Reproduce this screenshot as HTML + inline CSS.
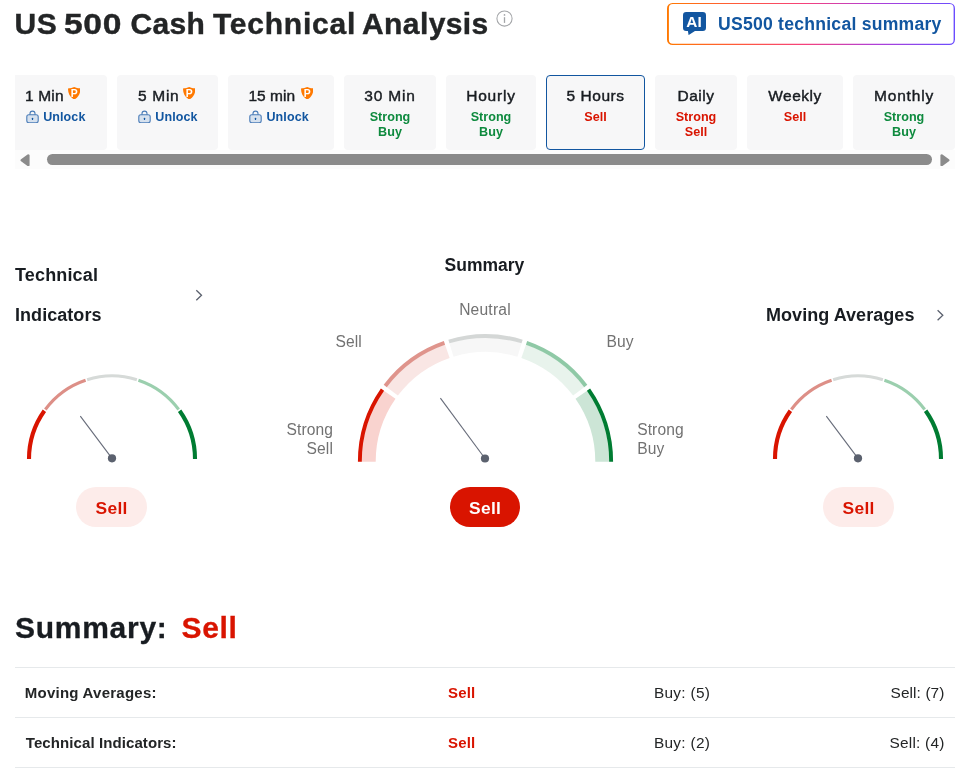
<!DOCTYPE html>
<html lang="en">
<head>
<meta charset="utf-8">
<title>US 500 Cash Technical Analysis</title>
<style>
*{box-sizing:border-box;margin:0;padding:0}
html,body{width:973px;height:770px;overflow:hidden;background:#fff}
body{font-family:"Liberation Sans",Arial,sans-serif;color:#181c21;position:relative}
.abs{position:absolute;white-space:nowrap}
h1{position:absolute;left:0;top:6.4px;width:500px;height:36px;font-size:30px;line-height:36px;font-weight:700;color:#232526;-webkit-text-stroke:.4px #232526;white-space:nowrap}
h1 span{position:absolute;top:0}
.info{position:absolute;left:496.3px;top:10.1px;width:17px;height:17px}
.aibtn{position:absolute;left:667px;top:3px;width:288px;height:42px}
.aibtn .in{position:absolute;left:0;top:0;width:288px;height:42px}
.aibtn .txt{position:absolute;left:51px;top:9.9px;font-size:17.6px;line-height:22px;font-weight:700;color:#1256a0;letter-spacing:.24px;white-space:nowrap}
.aiicon{position:absolute;left:15.7px;top:8.9px;width:23px;height:23.2px}
.tab{position:absolute;top:75px;height:75px;background:#f7f7f8;border-radius:4px;text-align:center}
.tab .t{position:absolute;left:0;right:0;top:10.9px;font-size:15.5px;line-height:20px;color:#181c21;-webkit-text-stroke:.42px #181c21;white-space:nowrap}
.tab .s{position:absolute;left:0;right:0;top:35px;font-size:12.6px;line-height:14.5px;font-weight:700}
.tab.lock .t{text-align:left}
.tab.lock .s{text-align:left;color:#1256a0;font-size:12.5px}
.tab.lock .s span{position:absolute;left:17.2px;top:0;letter-spacing:.1px}
.sh{position:absolute;top:11.6px}
.lk{position:absolute;left:0;top:-.3px}
.green{color:#0e8a3e}
.red{color:#d91400}
.tab.active{border:1px solid #1256a0}
.sbar{position:absolute;left:15px;top:150px;width:940px;height:18.7px;background:#fcfcfc}
.thumb{position:absolute;left:32px;top:4px;width:885.1px;height:10.8px;border-radius:5.4px;background:#8b8b8b}
.gt{font-size:18px;line-height:40px;font-weight:700;color:#181c21}
.gl{font-size:15.6px;line-height:19px;color:#727272}
.pill{position:absolute;top:487px;width:71px;height:40px;border-radius:20px;text-align:center;font-size:17.4px;line-height:42.2px;letter-spacing:.3px;text-indent:.3px;font-weight:700}
.pill.light{background:#fdecea;color:#d91400}
.pill.solid{background:#d91400;color:#fff}
.hr{position:absolute;left:15px;width:940px;height:1px;background:#e6e9eb}
.rl{font-size:15px;line-height:20px;font-weight:700;color:#232526}
.rs{font-size:15px;letter-spacing:.2px;line-height:20px;font-weight:700;color:#d91400}
.rv{font-size:15.4px;line-height:20px;color:#232526}
</style>
</head>
<body>
<h1><span style="left:14.6px;letter-spacing:.5px">US</span> <span style="left:64px;letter-spacing:.6px;transform:scaleX(1.12);transform-origin:0 0">500</span> <span style="left:130.5px;letter-spacing:.3px">Cash</span> <span style="left:212.9px;letter-spacing:.78px">Technical</span> <span style="left:362px;letter-spacing:.41px">Analysis</span></h1>
<svg class="info" viewBox="0 0 17 17"><circle cx="8.5" cy="8.5" r="7.6" fill="none" stroke="#a3a5a8" stroke-width="1.05"/><rect x="7.85" y="7.2" width="1.3" height="5.7" fill="#a3a5a8"/><circle cx="8.5" cy="4.9" r=".85" fill="#a3a5a8"/></svg>

<div class="aibtn"><svg class="in" viewBox="0 0 288 42"><defs><linearGradient id="aig" x1="0" y1="0" x2="1" y2="0"><stop offset="0" stop-color="#ff7901"/><stop offset=".25" stop-color="#ff5a3c"/><stop offset=".48" stop-color="#f5417d"/><stop offset=".72" stop-color="#b03fd6"/><stop offset="1" stop-color="#6b4dff"/></linearGradient></defs><rect width="288" height="42" rx="5.5" fill="url(#aig)"/><rect x="1.9" y="1.1" width="284.7" height="39.6" rx="4" fill="#fff"/></svg>
<svg class="aiicon" viewBox="0 0 23 23.2"><path d="M3.2 0h16.6a3.2 3.2 0 0 1 3.2 3.2v12.5a3.2 3.2 0 0 1-3.2 3.2H12l-6.4 4.2-.7-4.2H3.2a3.2 3.2 0 0 1-3.2-3.2V3.2a3.2 3.2 0 0 1 3.2-3.2z" fill="#1256a0"/><text x="11" y="15" text-anchor="middle" font-family="Liberation Sans, sans-serif" font-weight="700" font-size="15.4" fill="#fff">AI</text></svg>
<div class="txt">US500 technical summary</div></div>

<div class="tab lock" style="left:15px;width:92px;border-radius:0 4px 4px 0"><div class="t" style="left:10px;letter-spacing:0.17px">1 Min</div><svg class="sh" style="left:53px" width="12.4" height="12.6" viewBox="0 0 12.4 12.6"><path d="M6.2 0C8 .9 10 1.3 11.7 1.3c.4 0 .7.3.7.7-.1 4.8-2 8.2-6.2 10.6C2 10.2.1 6.8 0 2c0-.4.3-.7.7-.7C2.400 1.3 4.400.9 6.200 0z" fill="#ff7901"/><text x="6.2" y="10.2" text-anchor="middle" font-family="Liberation Sans, sans-serif" font-weight="700" font-size="10.4" fill="#fff">P</text></svg><div class="s" style="left:11px"><svg class="lk" width="13" height="13.5" viewBox="0 0 13 13.5"><path d="M4 5V3.6a2.5 2.5 0 0 1 5 0V5" fill="none" stroke="#4a7cb8" stroke-width="1.1"/><rect x=".8" y="4.8" width="11.4" height="7.9" rx="2" fill="#d6e1ee" stroke="#4a7cb8" stroke-width="1.1"/><rect x="5.9" y="7.7" width="1.2" height="2.2" rx=".5" fill="#1256a0"/></svg><span>Unlock</span></div></div>
<div class="tab lock" style="left:117px;width:101px"><div class="t" style="left:21px;letter-spacing:0.7px">5 Min</div><svg class="sh" style="left:66px" width="12.4" height="12.6" viewBox="0 0 12.4 12.6"><path d="M6.2 0C8 .9 10 1.3 11.7 1.3c.4 0 .7.3.7.7-.1 4.8-2 8.2-6.2 10.6C2 10.2.1 6.8 0 2c0-.4.3-.7.7-.7C2.400 1.3 4.400.9 6.200 0z" fill="#ff7901"/><text x="6.2" y="10.2" text-anchor="middle" font-family="Liberation Sans, sans-serif" font-weight="700" font-size="10.4" fill="#fff">P</text></svg><div class="s" style="left:21.1px"><svg class="lk" width="13" height="13.5" viewBox="0 0 13 13.5"><path d="M4 5V3.6a2.5 2.5 0 0 1 5 0V5" fill="none" stroke="#4a7cb8" stroke-width="1.1"/><rect x=".8" y="4.8" width="11.4" height="7.9" rx="2" fill="#d6e1ee" stroke="#4a7cb8" stroke-width="1.1"/><rect x="5.9" y="7.7" width="1.2" height="2.2" rx=".5" fill="#1256a0"/></svg><span>Unlock</span></div></div>
<div class="tab lock" style="left:228px;width:106px"><div class="t" style="left:20.5px;letter-spacing:0px">15 min</div><svg class="sh" style="left:73px" width="12.4" height="12.6" viewBox="0 0 12.4 12.6"><path d="M6.2 0C8 .9 10 1.3 11.7 1.3c.4 0 .7.3.7.7-.1 4.8-2 8.2-6.2 10.6C2 10.2.1 6.8 0 2c0-.4.3-.7.7-.7C2.400 1.3 4.400.9 6.200 0z" fill="#ff7901"/><text x="6.2" y="10.2" text-anchor="middle" font-family="Liberation Sans, sans-serif" font-weight="700" font-size="10.4" fill="#fff">P</text></svg><div class="s" style="left:21.3px"><svg class="lk" width="13" height="13.5" viewBox="0 0 13 13.5"><path d="M4 5V3.6a2.5 2.5 0 0 1 5 0V5" fill="none" stroke="#4a7cb8" stroke-width="1.1"/><rect x=".8" y="4.8" width="11.4" height="7.9" rx="2" fill="#d6e1ee" stroke="#4a7cb8" stroke-width="1.1"/><rect x="5.9" y="7.7" width="1.2" height="2.2" rx=".5" fill="#1256a0"/></svg><span>Unlock</span></div></div>
<div class="tab" style="left:344px;width:92px"><div class="t" style="letter-spacing:0.86px">30 Min</div><div class="s green">Strong<br>Buy</div></div>
<div class="tab" style="left:446px;width:90px"><div class="t" style="letter-spacing:0.78px">Hourly</div><div class="s green">Strong<br>Buy</div></div>
<div class="tab active" style="left:546px;width:99px"><div class="t" style="top:9.9px;letter-spacing:0.55px">5 Hours</div><div class="s red" style="top:34px">Sell</div></div>
<div class="tab" style="left:655px;width:82px"><div class="t" style="letter-spacing:0.5px">Daily</div><div class="s red">Strong<br>Sell</div></div>
<div class="tab" style="left:747px;width:96px"><div class="t" style="letter-spacing:0.5px">Weekly</div><div class="s red">Sell</div></div>
<div class="tab" style="left:853px;width:102px"><div class="t" style="letter-spacing:0.83px">Monthly</div><div class="s green">Strong<br>Buy</div></div>

<div class="sbar"><div class="thumb"></div>
<svg class="abs" style="left:4.9px;top:3.8px" width="10" height="12.4" viewBox="0 0 10 12.4"><path d="M8.3 1.5v9.4L1.8 6.2z" fill="#8b8b8b" stroke="#8b8b8b" stroke-width="2.6" stroke-linejoin="round"/></svg>
<svg class="abs" style="left:924.6px;top:3.8px" width="10" height="12.4" viewBox="0 0 10 12.4"><path d="M1.7 1.5v9.4l6.5-4.7z" fill="#8b8b8b" stroke="#8b8b8b" stroke-width="2.6" stroke-linejoin="round"/></svg>
</div>
<svg class="abs" style="left:0;top:230px" width="973" height="310" viewBox="0 230 973 310">
<path d="M29.00 458.90A83 83 0 0 1 44.39 410.76" fill="none" stroke="#d91400" stroke-width="4.1"/>
<path d="M45.32 409.47A83 83 0 0 1 85.60 380.21" fill="none" stroke="#dd8f87" stroke-width="3.1"/>
<path d="M87.11 379.72A83 83 0 0 1 136.89 379.72" fill="none" stroke="#d6dad8" stroke-width="3.1"/>
<path d="M138.40 380.21A83 83 0 0 1 178.68 409.47" fill="none" stroke="#9bcfae" stroke-width="3.1"/>
<path d="M179.61 410.76A83 83 0 0 1 195.00 458.90" fill="none" stroke="#007c32" stroke-width="4.1"/>
<line x1="112" y1="458.3" x2="80.3" y2="416.2" stroke="#666b79" stroke-width="1.1"/><circle cx="112" cy="458.3" r="4.1" fill="#5b616e"/>
<path d="M775.00 458.90A83 83 0 0 1 790.39 410.76" fill="none" stroke="#d91400" stroke-width="4.1"/>
<path d="M791.32 409.47A83 83 0 0 1 831.60 380.21" fill="none" stroke="#dd8f87" stroke-width="3.1"/>
<path d="M833.11 379.72A83 83 0 0 1 882.89 379.72" fill="none" stroke="#d6dad8" stroke-width="3.1"/>
<path d="M884.40 380.21A83 83 0 0 1 924.68 409.47" fill="none" stroke="#9bcfae" stroke-width="3.1"/>
<path d="M925.61 410.76A83 83 0 0 1 941.00 458.90" fill="none" stroke="#007c32" stroke-width="4.1"/>
<line x1="858" y1="458.3" x2="826.3" y2="416.2" stroke="#666b79" stroke-width="1.1"/><circle cx="858" cy="458.3" r="4.1" fill="#5b616e"/>
<path d="M361.50 461.70A123.99 123.99 0 0 1 383.85 390.69L395.49 398.82A109.8 109.8 0 0 0 375.70 461.70Z" fill="#f9d3cf"/>
<path d="M359.85 461.70A125.64 125.64 0 0 1 382.50 389.74" fill="none" stroke="#d91400" stroke-width="3.9"/>
<path d="M386.55 386.97A123.99 123.99 0 0 1 445.00 344.50L449.64 357.92A109.8 109.8 0 0 0 397.88 395.53Z" fill="#f9e6e4"/>
<path d="M385.23 385.97A125.64 125.64 0 0 1 444.46 342.94" fill="none" stroke="#df948c" stroke-width="3.9"/>
<path d="M449.37 343.08A123.99 123.99 0 0 1 521.63 343.08L517.49 356.66A109.8 109.8 0 0 0 453.51 356.66Z" fill="#f7f7f7"/>
<path d="M448.89 341.50A125.64 125.64 0 0 1 522.11 341.50" fill="none" stroke="#d4d7d6" stroke-width="3.9"/>
<path d="M526.00 344.50A123.99 123.99 0 0 1 584.45 386.97L573.12 395.53A109.8 109.8 0 0 0 521.36 357.92Z" fill="#e8f3ec"/>
<path d="M526.54 342.94A125.64 125.64 0 0 1 585.77 385.97" fill="none" stroke="#8fc9a6" stroke-width="3.9"/>
<path d="M587.15 390.69A123.99 123.99 0 0 1 609.50 461.70L595.30 461.70A109.8 109.8 0 0 0 575.51 398.82Z" fill="#cce5d6"/>
<path d="M588.50 389.74A125.64 125.64 0 0 1 611.15 461.70" fill="none" stroke="#007c32" stroke-width="3.9"/>
<line x1="485" y1="458.5" x2="440.4" y2="398.1" stroke="#666b79" stroke-width="1.1"/><circle cx="485" cy="458.5" r="4.1" fill="#5b616e"/>
<path d="M196.3 290.2l5.2 5-5.2 5" fill="none" stroke="#5b616e" stroke-width="1.3"/>
<path d="M937.6 310.2l5.2 5-5.2 5" fill="none" stroke="#5b616e" stroke-width="1.3"/>
</svg>

<div class="abs gt" style="left:15px;top:255px;letter-spacing:.15px">Technical</div>
<div class="abs gt" style="left:15px;top:295px;letter-spacing:.05px">Indicators</div>
<div class="abs gt" style="left:766px;top:295px;letter-spacing:.05px">Moving Averages</div>
<div class="abs gt" style="left:385px;width:200px;text-align:center;top:244.5px;font-size:17.5px;margin-left:-.6px">Summary</div>
<div class="abs gl" style="left:385px;width:200px;text-align:center;top:300.3px;letter-spacing:.2px">Neutral</div>
<div class="abs gl" style="left:335.6px;top:332.2px">Sell</div>
<div class="abs gl" style="left:606.6px;top:332.2px">Buy</div>
<div class="abs gl" style="right:640px;top:420.3px;text-align:right;letter-spacing:.1px">Strong<br>Sell</div>
<div class="abs gl" style="left:637.2px;top:420.3px;letter-spacing:.1px">Strong<br>Buy</div>
<div class="pill light" style="left:76px">Sell</div>
<div class="pill solid" style="left:450px;width:70px">Sell</div>
<div class="pill light" style="left:823px">Sell</div>

<div class="abs" style="left:15.1px;top:605.6px;font-size:30px;letter-spacing:.71px;line-height:44px;font-weight:700;color:#181c21;-webkit-text-stroke:.3px #181c21">Summary:</div>
<div class="abs" style="left:181.6px;top:605.6px;font-size:30px;letter-spacing:.6px;line-height:44px;font-weight:700;color:#d91400;-webkit-text-stroke:.3px #d91400">Sell</div>
<div class="hr" style="top:667px"></div>
<div class="hr" style="top:717px"></div>
<div class="hr" style="top:767px"></div>
<div class="abs rl" style="left:24.8px;top:683px;letter-spacing:.24px">Moving Averages:</div>
<div class="abs rl" style="left:25.8px;top:733px;letter-spacing:.09px">Technical Indicators:</div>
<div class="abs rs" style="left:448px;top:683px">Sell</div>
<div class="abs rs" style="left:448px;top:733px">Sell</div>
<div class="abs rv" style="left:653.9px;top:683px;letter-spacing:.3px">Buy: (5)</div>
<div class="abs rv" style="left:653.9px;top:733px;letter-spacing:.3px">Buy: (2)</div>
<div class="abs rv" style="left:890.5px;top:683px;letter-spacing:.11px">Sell: (7)</div>
<div class="abs rv" style="left:889.4px;top:733px;letter-spacing:.25px">Sell: (4)</div>

</body>
</html>
